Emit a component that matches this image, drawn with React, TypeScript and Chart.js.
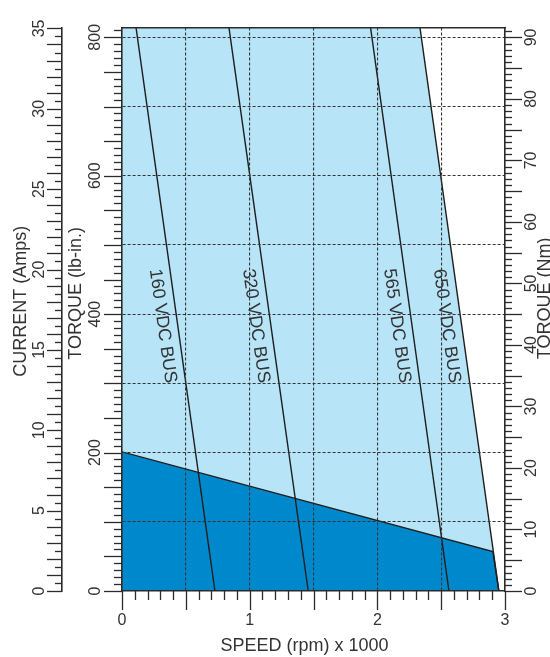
import React, { useEffect, useRef } from 'react';
import { Chart, registerables } from 'chart.js';

Chart.register(...registerables);

const FONT = "'Liberation Sans', Arial, Helvetica, sans-serif";
const TEXT = '#333333';
const AXIS = '#2b2b2b';
const GRID = '#333333';
const LIGHT = '#B8E4F8';
const DARK = '#0088CC';

// axis ranges
const speedMax = 3;
const torqueLbInMax = 814;
const currentMax = 35.05;
const torqueNmMax = 91.6;

// tick labels
const speedTickLabels = [0, 1, 2, 3];
const torqueLbInTickLabels = [0, 200, 400, 600, 800];
const currentTickLabels = [0, 5, 10, 15, 20, 25, 30, 35];
const torqueNmTickLabels = [0, 10, 20, 30, 40, 50, 60, 70, 80, 90];

// peak (intermittent) torque envelope: speed (rpm x 1000) / torque (lb-in)
const peakSpeed = [0, 2.334, 2.952];
const peakTorque = [814, 814, 0];

// continuous torque envelope
const contSpeed = [0, 2.905, 2.952];
const contTorque = [201, 57, 0];

// bus voltage lines
const busLabels = ['160 VDC BUS', '320 VDC BUS', '565 VDC BUS', '650 VDC BUS'];
const busSpeedAtTop = [0.11, 0.838, 1.947, 2.334];
const busSpeedAtZero = [0.728, 1.459, 2.561, 2.952];
const busTorqueTop = 814;
const busLabelTorque = 386;

const near = (arr: number[], v: number) => arr.some((a) => Math.abs(a - v) < 1e-6);

const tickSpecs = [
  { id: 'x', max: 3, step: 0.1, majorEvery: 5, minor: 9, major: 19 },
  { id: 'y', max: 810, step: 10, majorEvery: 5, minor: 8, major: 18 },
  { id: 'yAmp', max: 35, step: 0.5, majorEvery: 2, minor: 7, major: 15 },
  { id: 'yNm', max: 91, step: 1, majorEvery: 5, minor: 7, major: 17 },
];

const decorPlugin = {
  id: 'decor',
  afterDraw(chart: any) {
    const ctx = chart.ctx as CanvasRenderingContext2D;
    const ca = chart.chartArea;
    ctx.save();
    ctx.strokeStyle = AXIS;
    ctx.lineWidth = 1.3;
    for (const spec of tickSpecs) {
      const s = chart.scales[spec.id];
      const n = Math.round(spec.max / spec.step);
      for (let i = 0; i <= n; i++) {
        const v = i * spec.step;
        const len = i % spec.majorEvery === 0 ? spec.major : spec.minor;
        const p = Math.round(s.getPixelForValue(v)) + 0.5;
        ctx.beginPath();
        if (spec.id === 'x') {
          ctx.moveTo(p, s.top);
          ctx.lineTo(p, s.top + len);
        } else if (s.position === 'left') {
          ctx.moveTo(s.right, p);
          ctx.lineTo(s.right - len, p);
        } else {
          ctx.moveTo(s.left, p);
          ctx.lineTo(s.left + len, p);
        }
        ctx.stroke();
      }
    }
    ctx.restore();

    // bus labels along lines
    const xs = chart.scales.x;
    const ys = chart.scales.y;
    ctx.save();
    ctx.fillStyle = TEXT;
    ctx.font = `18px ${FONT}`;
    ctx.textAlign = 'center';
    ctx.textBaseline = 'middle';
    busLabels.forEach((label, i) => {
      const x1 = xs.getPixelForValue(busSpeedAtTop[i]);
      const y1 = ys.getPixelForValue(busTorqueTop);
      const x2 = xs.getPixelForValue(busSpeedAtZero[i]);
      const y2 = ys.getPixelForValue(0);
      const t = (busTorqueTop - busLabelTorque) / busTorqueTop;
      const px = x1 + (x2 - x1) * t;
      const py = y1 + (y2 - y1) * t;
      const L = Math.hypot(x2 - x1, y2 - y1);
      const dx = (x2 - x1) / L;
      const dy = (y2 - y1) / L;
      const off = 15;
      const cx = px - dy * off;
      const cy = py + dx * off;
      ctx.save();
      ctx.translate(cx, cy);
      ctx.rotate(Math.atan2(dy, dx));
      ctx.fillText(label, 0, 0);
      ctx.restore();
    });
    ctx.restore();

    // axis titles
    const midY = (ca.top + ca.bottom) / 2;
    const drawRot = (text: string, x: number, y: number) => {
      ctx.save();
      ctx.translate(x, y);
      ctx.rotate(-Math.PI / 2);
      ctx.fillText(text, 0, 0);
      ctx.restore();
    };
    ctx.save();
    ctx.fillStyle = TEXT;
    ctx.font = `18px ${FONT}`;
    ctx.textAlign = 'center';
    ctx.textBaseline = 'middle';
    const ya = chart.scales.yAmp;
    const yn = chart.scales.yNm;
    drawRot('CURRENT (Amps)', ya.left + 21, midY - 8);
    drawRot('TORQUE (lb-in.)', ys.left + 14, midY - 16);
    drawRot('TORQUE (Nm)', yn.left + 40, midY - 11);
    ctx.fillText('SPEED (rpm) x 1000', (ca.left + ca.right) / 2 - 9, xs.bottom - 11);
    ctx.restore();
  },
};

export default function App() {
  const ref = useRef<HTMLCanvasElement>(null);
  useEffect(() => {
    const canvas = ref.current!;
    const pts = (xs: number[], ys: number[]) => xs.map((x, i) => ({ x, y: ys[i] }));
    const busDatasets = busLabels.map((label, i) => ({
      label,
      data: [
        { x: busSpeedAtTop[i], y: busTorqueTop },
        { x: busSpeedAtZero[i], y: 0 },
      ],
      borderColor: '#1e1e1e',
      borderWidth: 1.4,
      pointRadius: 0,
      fill: false,
      order: 0,
    }));
    const tickFont = { family: FONT, size: 16 };
    const chart = new Chart(canvas, {
      type: 'line',
      data: {
        datasets: [
          ...busDatasets,
          {
            label: 'Continuous',
            data: pts(contSpeed, contTorque),
            borderColor: '#1e1e1e',
            borderWidth: 1.4,
            backgroundColor: DARK,
            pointRadius: 0,
            fill: 'origin',
            order: 5,
          },
          {
            label: 'Peak',
            data: pts(peakSpeed, peakTorque),
            borderWidth: 0,
            borderColor: 'transparent',
            backgroundColor: LIGHT,
            pointRadius: 0,
            fill: 'origin',
            order: 6,
          },
        ] as any,
      },
      options: {
        animation: false,
        responsive: false,
        devicePixelRatio: 1,
        layout: { padding: 0 },
        plugins: { legend: { display: false }, tooltip: { enabled: false } },
        scales: {
          x: {
            type: 'linear',
            position: 'bottom',
            min: 0,
            max: speedMax,
            afterFit: (s: any) => { s.height = 66; },
            ticks: {
              stepSize: 0.5,
              autoSkip: false,
              includeBounds: false,
              maxRotation: 0,
              minRotation: 0,
              padding: 20,
              color: TEXT,
              font: tickFont,
              callback: (v: any) => (near(speedTickLabels, Number(v)) ? String(Math.round(Number(v))) : ''),
            },
            grid: {
              drawTicks: false,
              lineWidth: 1.1,
              z: 1,
              color: (c: any) => (c.tick && c.tick.value > 0.01 && c.tick.value < speedMax - 0.01 ? GRID : 'transparent'),
            },
            border: { display: true, color: AXIS, width: 1.6, dash: [3, 2], z: 2 },
          },
          xTop: {
            type: 'linear',
            position: 'top',
            min: 0,
            max: speedMax,
            afterFit: (s: any) => { s.height = 12; },
            ticks: { display: false },
            grid: { display: false },
            border: { display: true, color: AXIS, width: 1.6, z: 2 },
          },
          y: {
            type: 'linear',
            position: 'left',
            weight: 0,
            min: 0,
            max: torqueLbInMax,
            afterFit: (s: any) => { s.width = 60; },
            ticks: {
              stepSize: 100,
              autoSkip: false,
              includeBounds: false,
              minRotation: 90,
              maxRotation: 90,
              crossAlign: 'center',
              padding: 13,
              color: TEXT,
              font: tickFont,
              callback: (v: any) => (near(torqueLbInTickLabels, Number(v)) ? String(Math.round(Number(v))) : ''),
            },
            grid: {
              drawTicks: false,
              lineWidth: 1.1,
              z: 1,
              color: (c: any) => (c.tick && c.tick.value > 1 ? GRID : 'transparent'),
            },
            border: { display: true, color: AXIS, width: 1.6, dash: [3, 2], z: 2 },
          },
          yAmp: {
            type: 'linear',
            position: 'left',
            weight: 1,
            min: 0,
            max: currentMax,
            afterFit: (s: any) => { s.width = 62; },
            ticks: {
              stepSize: 5,
              autoSkip: false,
              includeBounds: false,
              minRotation: 90,
              maxRotation: 90,
              crossAlign: 'center',
              padding: 14,
              color: TEXT,
              font: tickFont,
              callback: (v: any) => (near(currentTickLabels, Number(v)) ? String(Math.round(Number(v))) : ''),
            },
            grid: { display: false, drawTicks: false },
            border: { display: true, color: AXIS, width: 1.6 },
          },
          yNm: {
            type: 'linear',
            position: 'right',
            weight: 0,
            min: 0,
            max: torqueNmMax,
            afterFit: (s: any) => { s.width = 45; },
            ticks: {
              stepSize: 10,
              autoSkip: false,
              includeBounds: false,
              minRotation: 90,
              maxRotation: 90,
              crossAlign: 'center',
              padding: 18,
              color: TEXT,
              font: tickFont,
              callback: (v: any) => (near(torqueNmTickLabels, Number(v)) ? String(Math.round(Number(v))) : ''),
            },
            grid: { display: false, drawTicks: false },
            border: { display: true, color: AXIS, width: 1.6, z: 2 },
          },
        },
      } as any,
      plugins: [decorPlugin],
    });
    return () => chart.destroy();
  }, []);
  return (
    <div style={{ position: 'absolute', left: 0, top: 0, width: 550, height: 657 }}>
      <canvas ref={ref} width={550} height={657} style={{ display: 'block' }} />
    </div>
  );
}
